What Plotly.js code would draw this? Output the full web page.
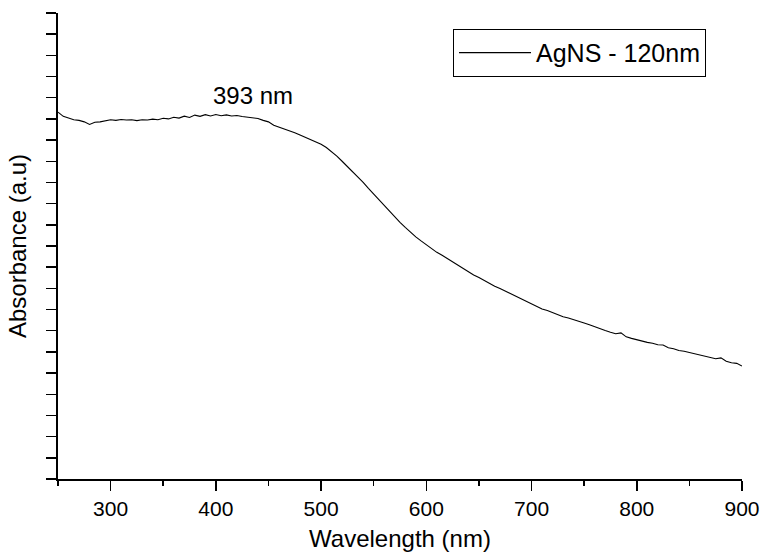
<!DOCTYPE html>
<html>
<head>
<meta charset="utf-8">
<script src="https://cdn.plot.ly/plotly-3.0.1.min.js"></script>
<style>html,body{margin:0;padding:0;background:#fff;}#chart{width:761px;height:552px;}</style>
</head>
<body>
<div id="chart"></div>
<script>
const wavelength = [250,255,260,265,270,275,280,285,290,295,300,305,310,315,320,325,330,335,340,345,350,355,360,365,370,375,380,385,390,395,400,405,410,415,420,425,430,435,440,445,450,455,460,465,470,475,480,485,490,495,500,505,510,515,520,525,530,535,540,545,550,555,560,565,570,575,580,585,590,595,600,605,610,615,620,625,630,635,640,645,650,655,660,665,670,675,680,685,690,695,700,705,710,715,720,725,730,735,740,745,750,755,760,765,770,775,780,785,790,795,800,805,810,815,820,825,830,835,840,845,850,855,860,865,870,875,880,885,890,895,900];
const absorbance = [17.32,17.12,17.04,16.96,16.93,16.86,16.74,16.84,16.86,16.92,16.96,16.93,16.97,16.95,16.96,16.92,16.96,16.95,16.99,16.96,17.03,17.00,17.08,17.04,17.13,17.07,17.18,17.12,17.20,17.14,17.21,17.15,17.19,17.14,17.16,17.11,17.09,17.05,17.02,16.93,16.86,16.70,16.62,16.52,16.44,16.35,16.24,16.13,16.04,15.92,15.80,15.65,15.46,15.24,15.00,14.76,14.52,14.26,14.00,13.72,13.45,13.16,12.88,12.62,12.38,12.12,11.88,11.64,11.43,11.24,11.05,10.87,10.70,10.56,10.40,10.25,10.08,9.94,9.79,9.63,9.51,9.36,9.23,9.10,8.99,8.87,8.77,8.63,8.52,8.41,8.27,8.16,8.03,7.95,7.85,7.76,7.66,7.60,7.51,7.43,7.36,7.28,7.18,7.10,7.01,6.93,6.86,6.90,6.71,6.64,6.57,6.52,6.45,6.41,6.34,6.33,6.20,6.15,6.07,6.03,5.97,5.90,5.83,5.77,5.72,5.68,5.72,5.56,5.49,5.46,5.33];
const seriesName = "AgNS - 120nm";
const peakLabel = "393 nm";
const peakLabelPos = [435, 18.1];
const xTickVals = [300,400,500,600,700,800,900];
const yTickVals = [0,1,2,3,4,5,6,7,8,9,10,11,12,13,14,15,16,17,18,19,20,21,22];

const FONT = "Liberation Sans, Arial, sans-serif";
const trace = {
  x: wavelength, y: absorbance, type: 'scatter', mode: 'lines', name: seriesName,
  line: {color: '#000', width: 1.1}
};
const layout = {
  width: 761, height: 552,
  margin: {l: 58, r: 19, t: 13, b: 73},
  paper_bgcolor: '#fff', plot_bgcolor: '#fff',
  font: {family: FONT, color: '#000'},
  showlegend: true,
  legend: {
    x: 0.5775, y: 0.966, xanchor: 'left', yanchor: 'top',
    bordercolor: '#000', borderwidth: 1, bgcolor: '#fff',
    font: {family: FONT, size: 25, color: '#000'},
    itemwidth: 72, tracegroupgap: 0
  },
  xaxis: {
    range: [250, 900], tickvals: xTickVals, ticks: 'outside', ticklen: 10, tickwidth: 1.5,
    tickcolor: '#000', showline: true, linecolor: '#000', linewidth: 2, zeroline: false, showgrid: false,
    tickfont: {family: FONT, size: 21, color: '#000'},
    minor: {dtick: 50, tick0: 250, ticks: 'outside', ticklen: 5, tickwidth: 1.5, tickcolor: '#000', showgrid: false},
    title: {text: 'Wavelength (nm)', font: {family: FONT, size: 24, color: '#000'}, standoff: 11},
    automargin: false
  },
  yaxis: {
    range: [0, 22], tickvals: yTickVals, showticklabels: false, ticks: 'outside', ticklen: 10, tickwidth: 1.5,
    tickcolor: '#000', showline: true, linecolor: '#000', linewidth: 2, zeroline: false, showgrid: false,
    title: {text: 'Absorbance (a.u)', font: {family: FONT, size: 24, color: '#000'}, standoff: 13},
    automargin: false
  },
  xaxis2: {
    overlaying: 'x', side: 'top', anchor: 'y', range: [250, 900], dtick: 50, tick0: 250,
    ticks: 'inside', ticklen: 3, tickwidth: 1, tickcolor: '#000', showticklabels: false,
    showline: true, linecolor: '#000', linewidth: 2, showgrid: false, zeroline: false
  },
  yaxis2: {
    overlaying: 'y', side: 'right', anchor: 'x', range: [0, 22], tickvals: yTickVals,
    ticks: 'outside', ticklen: 3, tickwidth: 1, tickcolor: '#000', showticklabels: false,
    showline: true, linecolor: '#000', linewidth: 2, showgrid: false, zeroline: false
  },
  annotations: [{
    x: peakLabelPos[0], y: peakLabelPos[1], xref: 'x', yref: 'y', text: peakLabel, showarrow: false,
    font: {family: FONT, size: 24, color: '#000'}
  }]
};
Plotly.newPlot('chart', [trace], layout, {displayModeBar: false, staticPlot: true});
</script>
</body>
</html>
